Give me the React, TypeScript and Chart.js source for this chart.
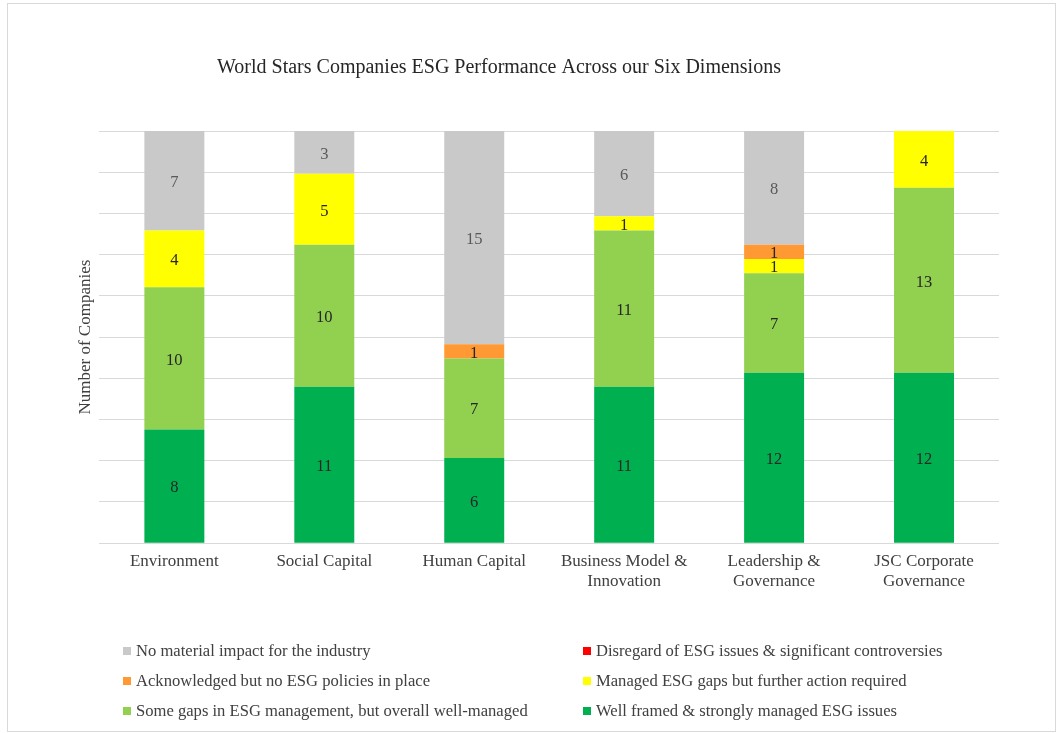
import React, { useEffect, useRef } from "react";
import { Chart, registerables } from "chart.js";

Chart.register(...registerables);

const categories: string[][] = [
  ["Environment"],
  ["Social Capital"],
  ["Human Capital"],
  ["Business Model &", "Innovation"],
  ["Leadership &", "Governance"],
  ["JSC Corporate", "Governance"],
];

const wellFramed = [8, 11, 6, 11, 12, 12];
const someGaps = [10, 10, 7, 11, 7, 13];
const managedGaps = [4, 5, 0, 1, 1, 4];
const acknowledged = [0, 0, 1, 0, 1, 0];
const disregard = [0, 0, 0, 0, 0, 0];
const noImpact = [7, 3, 15, 6, 8, 0];

const yGridValues = [0, 2.9, 5.8, 8.7, 11.6, 14.5, 17.4, 20.3, 23.2, 26.1, 29];

const titleText = "World Stars Companies ESG Performance Across our Six Dimensions";
const yTitle = "Number of Companies";

const legendLabels = [
  "No material impact for the industry",
  "Disregard of ESG issues & significant controversies",
  "Acknowledged but no ESG policies in place",
  "Managed ESG gaps but further action required",
  "Some gaps in ESG management, but overall well-managed",
  "Well framed & strongly managed ESG issues",
];

const FONT = "'Liberation Serif', 'Times New Roman', serif";

const COLORS = {
  noImpact: "#c9c9c9",
  disregard: "#ff0000",
  acknowledged: "#ff9933",
  managed: "#ffff00",
  someGaps: "#92d050",
  wellFramed: "#00b050",
};

const legendColors = [
  COLORS.noImpact,
  COLORS.disregard,
  COLORS.acknowledged,
  COLORS.managed,
  COLORS.someGaps,
  COLORS.wellFramed,
];

const extrasPlugin = {
  id: "extras",
  afterDatasetsDraw(chart: any) {
    const ctx = chart.ctx;
    ctx.save();
    ctx.font = `16.5px ${FONT}`;
    ctx.textAlign = "center";
    ctx.textBaseline = "middle";
    chart.data.datasets.forEach((ds: any, di: number) => {
      const meta = chart.getDatasetMeta(di);
      meta.data.forEach((el: any, i: number) => {
        const v = ds.data[i];
        if (!v) return;
        ctx.fillStyle = ds.labelColor || "#262626";
        ctx.fillText(String(v), el.x, (el.y + el.base) / 2 + 2);
      });
    });
    ctx.restore();
  },
  afterDraw(chart: any) {
    const ctx = chart.ctx;
    ctx.save();
    // title
    ctx.font = `20px ${FONT}`;
    ctx.fillStyle = "#262626";
    ctx.textAlign = "center";
    ctx.textBaseline = "middle";
    ctx.fillText(titleText, 491, 64);
    // legend
    ctx.font = `16.6px ${FONT}`;
    ctx.textAlign = "left";
    const colX = [115, 575];
    const rowY = [647, 677, 707];
    legendLabels.forEach((lab, i) => {
      const x = colX[i % 2];
      const y = rowY[Math.floor(i / 2)];
      ctx.fillStyle = legendColors[i];
      ctx.fillRect(x, y - 4, 8, 8);
      ctx.fillStyle = "#404040";
      ctx.fillText(lab, x + 13, y + 1);
    });
    ctx.restore();
  },
};

export default function App() {
  const ref = useRef<HTMLCanvasElement | null>(null);
  useEffect(() => {
    if (!ref.current) return;
    const chart = new Chart(ref.current, {
      type: "bar",
      data: {
        labels: categories,
        datasets: [
          { label: legendLabels[5], data: wellFramed, backgroundColor: COLORS.wellFramed },
          { label: legendLabels[4], data: someGaps, backgroundColor: COLORS.someGaps },
          { label: legendLabels[3], data: managedGaps, backgroundColor: COLORS.managed },
          { label: legendLabels[2], data: acknowledged, backgroundColor: COLORS.acknowledged },
          { label: legendLabels[1], data: disregard, backgroundColor: COLORS.disregard },
          { label: legendLabels[0], data: noImpact, backgroundColor: COLORS.noImpact, labelColor: "#595959" } as any,
        ],
      },
      options: {
        animation: false,
        responsive: true,
        maintainAspectRatio: false,
        datasets: { bar: { barPercentage: 0.4, categoryPercentage: 1 } },
        layout: { padding: { top: 127, left: 63, right: 56, bottom: 131 } },
        plugins: {
          legend: { display: false },
          title: { display: false },
          tooltip: { enabled: false },
        },
        scales: {
          x: {
            stacked: true,
            grid: { display: false, drawTicks: false },
            border: { display: false },
            ticks: {
              color: "#404040",
              font: { family: FONT, size: 17 },
              padding: 8,
              maxRotation: 0,
              autoSkip: false,
            },
          },
          y: {
            stacked: true,
            min: 0,
            max: 29,
            afterBuildTicks: (scale: any) => {
              scale.ticks = yGridValues.map((v) => ({ value: v }));
            },
            grid: { color: "#d9d9d9", lineWidth: 1, drawTicks: false },
            border: { display: false },
            ticks: { display: false },
            title: {
              display: true,
              text: yTitle,
              color: "#404040",
              font: { family: FONT, size: 17 },
              padding: { top: 4, bottom: 4 },
            },
          },
        },
      },
      plugins: [extrasPlugin],
    });
    return () => chart.destroy();
  }, []);
  return (
    <div
      style={{
        position: "absolute",
        left: 7,
        top: 3,
        width: 1049,
        height: 729,
        border: "1px solid #d9d9d9",
        boxSizing: "border-box",
        background: "#fff",
      }}
    >
      <canvas ref={ref} />
    </div>
  );
}
